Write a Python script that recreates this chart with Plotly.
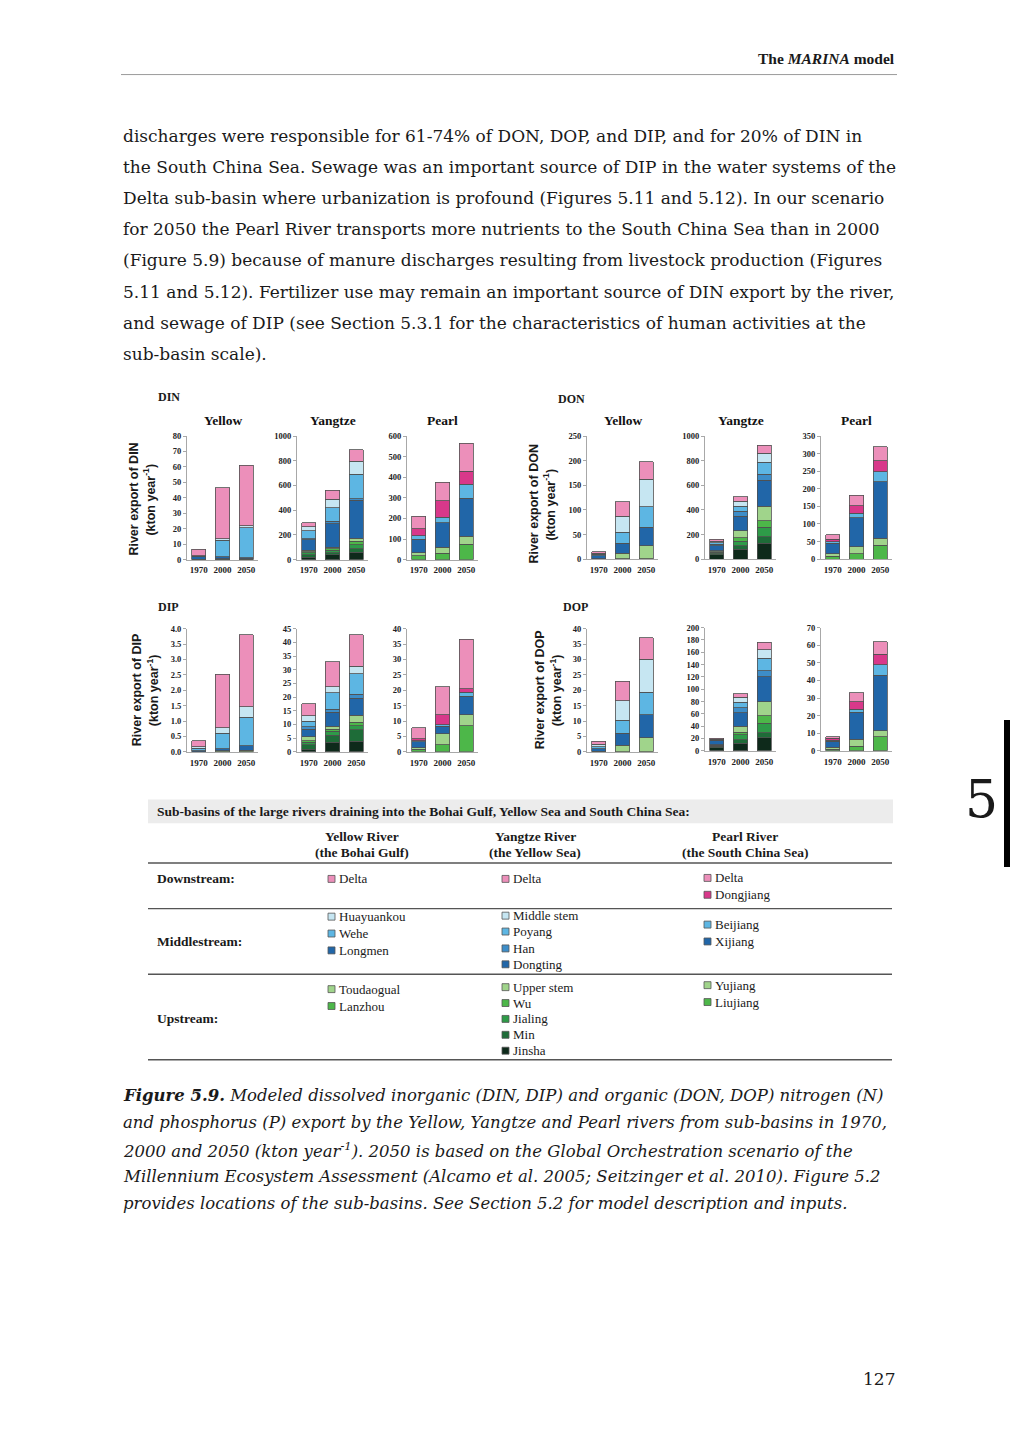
import plotly.graph_objects as go

# page body has an 8px margin: the figure is sized and offset to fit the 1018x1440 window
OFF = 8
W, H = 1018 - OFF, 1440 - OFF
def fx(x): return (x - OFF) / W
def fy(y): return 1 - (y - OFF) / H

years = ['1970', '2000', '2050']

yellow_basins = ['Lanzhou', 'Toudaogual', 'Longmen', 'Wehe', 'Huayuankou', 'Delta']
yangtze_basins = ['Jinsha', 'Min', 'Jialing', 'Wu', 'Upper stem', 'Dongting', 'Han', 'Poyang', 'Middle stem', 'Delta']
pearl_basins = ['Liujiang', 'Yujiang', 'Xijiang', 'Beijiang', 'Dongjiang', 'Delta']

# ---- DIN (kton/yr), segments bottom -> top
din_yellow = {'Lanzhou': [0.1, 0.2, 0.2], 'Toudaogual': [0.2, 0.3, 0.3], 'Longmen': [1.8, 1.5, 0.7],
              'Wehe': [0.3, 10.5, 19.3], 'Huayuankou': [0.2, 1.0, 1.5], 'Delta': [4.2, 33.0, 39.0]}
din_yangtze = {'Jinsha': [20, 40, 60], 'Min': [20, 15, 30], 'Jialing': [15, 20, 30], 'Wu': [10, 15, 30],
               'Upper stem': [12, 12, 22], 'Dongting': [85, 190, 310], 'Han': [8, 18, 10],
               'Poyang': [65, 110, 200], 'Middle stem': [30, 70, 105], 'Delta': [35, 70, 90]}
din_pearl = {'Liujiang': [18, 30, 75], 'Yujiang': [15, 30, 38], 'Xijiang': [67, 118, 184],
             'Beijiang': [15, 27, 68], 'Dongjiang': [35, 80, 65], 'Delta': [60, 90, 135]}
# ---- DON
don_yellow = {'Lanzhou': [0.3, 0.5, 0.5], 'Toudaogual': [0.7, 11.5, 26.5], 'Longmen': [6, 20, 38],
              'Wehe': [3, 23, 41], 'Huayuankou': [2, 32, 56], 'Delta': [3, 30, 36]}
don_yangtze = {'Jinsha': [35, 80, 130], 'Min': [10, 30, 50], 'Jialing': [10, 35, 80], 'Wu': [5, 30, 50],
               'Upper stem': [10, 55, 120], 'Dongting': [40, 120, 210], 'Han': [10, 40, 50],
               'Poyang': [15, 40, 95], 'Middle stem': [10, 40, 75], 'Delta': [15, 35, 65]}
don_pearl = {'Liujiang': [8, 15, 40], 'Yujiang': [7, 20, 20], 'Xijiang': [30, 83, 160],
             'Beijiang': [5, 12, 28], 'Dongjiang': [7, 22, 32], 'Delta': [13, 30, 40]}
# ---- DIP
dip_yellow = {'Lanzhou': [0.005, 0.01, 0.01], 'Toudaogual': [0.005, 0.02, 0.04], 'Longmen': [0.02, 0.07, 0.15],
              'Wehe': [0.09, 0.5, 0.93], 'Huayuankou': [0.04, 0.18, 0.34], 'Delta': [0.2, 1.74, 2.33]}
dip_yangtze = {'Jinsha': [1.0, 3.5, 3.8], 'Min': [1.5, 2.5, 4.2], 'Jialing': [1.0, 1.5, 1.5], 'Wu': [0.5, 0.8, 1.3],
               'Upper stem': [1.5, 1.0, 2.5], 'Dongting': [2.8, 5.2, 6.2], 'Han': [0.9, 1.0, 1.5],
               'Poyang': [2.0, 6.0, 7.5], 'Middle stem': [2.0, 2.3, 2.8], 'Delta': [4.3, 9.2, 11.5]}
dip_pearl = {'Liujiang': [0.8, 2.3, 8.5], 'Yujiang': [0.5, 3.5, 3.5], 'Xijiang': [1.9, 2.5, 6.0],
             'Beijiang': [0.4, 0.5, 1.3], 'Dongjiang': [0.6, 3.3, 1.2], 'Delta': [3.6, 9.1, 16.0]}
# ---- DOP
dop_yellow = {'Lanzhou': [0.05, 0.1, 0.1], 'Toudaogual': [0.15, 2.1, 4.4], 'Longmen': [0.8, 3.8, 7.5],
              'Wehe': [0.7, 4.2, 7.4], 'Huayuankou': [0.8, 6.4, 10.6], 'Delta': [1.0, 6.4, 7.0]}
dop_yangtze = {'Jinsha': [5, 12, 21], 'Min': [2, 6, 8], 'Jialing': [1, 8, 16], 'Wu': [1, 4, 12],
               'Upper stem': [1, 10, 23], 'Dongting': [6, 22, 40], 'Han': [1, 8, 10],
               'Poyang': [1, 9, 20], 'Middle stem': [1, 8, 14], 'Delta': [1.5, 6, 12]}
dop_pearl = {'Liujiang': [1, 2.5, 8], 'Yujiang': [1, 4, 3.5], 'Xijiang': [3.5, 15.5, 31.5],
             'Beijiang': [0.5, 1.5, 6], 'Dongjiang': [1, 4.5, 6], 'Delta': [1, 5, 7]}

COL = {
    'Delta': '#EC8FBA', 'Dongjiang': '#D8388A',
    'Huayuankou': '#C6E6F2', 'Middle stem': '#C6E6F2',
    'Wehe': '#5DB6E3', 'Poyang': '#5DB6E3', 'Beijiang': '#5DB6E3',
    'Han': '#3D8DC8',
    'Longmen': '#2166A8', 'Dongting': '#2166A8', 'Xijiang': '#2166A8',
    'Toudaogual': '#A0D48B', 'Upper stem': '#A0D48B', 'Yujiang': '#A0D48B',
    'Lanzhou': '#4DB749', 'Wu': '#4DB749', 'Liujiang': '#4DB749',
    'Jialing': '#2E9B48', 'Min': '#1E6C38', 'Jinsha': '#0E2A1B',
}

SERIF = 'Liberation Serif'
SANS = 'Liberation Sans'

# (data, basins, range, dtick, tickformat, axis x-pixel, top-pixel, zero-pixel, title)
panels = [
    (din_yellow, yellow_basins, 80, 10, None, 187, 434, 558.5, 'Yellow'),
    (din_yangtze, yangtze_basins, 1000, 200, None, 297, 434, 558.5, 'Yangtze'),
    (din_pearl, pearl_basins, 600, 100, None, 407, 434, 558.5, 'Pearl'),
    (don_yellow, yellow_basins, 250, 50, None, 587, 434, 558, 'Yellow'),
    (don_yangtze, yangtze_basins, 1000, 200, None, 705, 434, 558, 'Yangtze'),
    (don_pearl, pearl_basins, 350, 50, None, 821, 434, 558, 'Pearl'),
    (dip_yellow, yellow_basins, 4, 0.5, '.1f', 187, 628, 752, None),
    (dip_yangtze, yangtze_basins, 45, 5, None, 297, 628, 752, None),
    (dip_pearl, pearl_basins, 40, 5, None, 407, 628, 752, None),
    (dop_yellow, yellow_basins, 40, 5, None, 587, 628, 752, None),
    (dop_yangtze, yangtze_basins, 200, 20, None, 705, 627, 751, None),
    (dop_pearl, pearl_basins, 70, 10, None, 821, 627, 751, None),
]

fig = go.Figure()
layout = dict()
annotations = []
shapes = []
PW = 71
for i, (data, basins, ymax, dt, tf, x0, ytop, y0, title) in enumerate(panels, start=1):
    xa = 'x' if i == 1 else 'x%d' % i
    ya = 'y' if i == 1 else 'y%d' % i
    for b in basins:
        fig.add_trace(go.Bar(x=years, y=data[b], xaxis=xa, yaxis=ya, name=b,
                             marker=dict(color=COL[b], line=dict(color='#505050', width=0.8)),
                             showlegend=False, hoverinfo='skip'))
    kx = 'xaxis' if i == 1 else 'xaxis%d' % i
    ky = 'yaxis' if i == 1 else 'yaxis%d' % i
    layout[kx] = dict(domain=[fx(x0), fx(x0 + PW)], anchor=ya, showline=True, linecolor='#A8A8A8',
                      linewidth=1, ticks='', showgrid=False, zeroline=False, fixedrange=True,
                      tickfont=dict(family=SERIF, size=9, color='#222', weight='bold'),
                      type='category', ticklabelstandoff=2)
    ydict = dict(domain=[fy(y0), fy(ytop)], anchor=xa, range=[0, ymax], dtick=dt, tick0=0,
                 showline=True, linecolor='#A8A8A8', linewidth=1, ticks='outside', ticklen=3,
                 tickcolor='#A8A8A8', showgrid=False, zeroline=False, fixedrange=True,
                 tickfont=dict(family=SERIF, size=8.5, color='#222', weight='bold'))
    if tf:
        ydict['tickformat'] = tf
    layout[ky] = ydict
    if title:
        annotations.append(dict(x=fx(x0 + PW / 2), y=fy(418), text='<b>%s</b>' % title, showarrow=False,
                                xref='paper', yref='paper', xanchor='center', yanchor='middle',
                                font=dict(family=SERIF, size=13.5, color='#111')))

def ann(x, y, text, size, family=SERIF, xanchor='left', bold=False, italic=False,
        angle=0, color='#1a1a1a'):
    if bold:
        text = '<b>%s</b>' % text
    if italic:
        text = '<i>%s</i>' % text
    annotations.append(dict(x=fx(x), y=fy(y), text=text, showarrow=False, xref='paper', yref='paper',
                            xanchor=xanchor, yanchor='middle', textangle=angle,
                            font=dict(family=family, size=size, color=color)))

# panel labels
ann(156, 395, 'DIN', 12, bold=True)
ann(556, 397, 'DON', 12, bold=True)
ann(156, 606, 'DIP', 12, bold=True)
ann(561, 606, 'DOP', 12, bold=True)
# y titles
for (xa_, xb_, yc, nut) in [(134, 149, 498, 'DIN'), (534, 549, 503, 'DON'),
                            (137, 153, 690, 'DIP'), (540, 556, 690, 'DOP')]:
    ann(xa_, yc, 'River export of %s' % nut, 12.5, family=SANS, xanchor='center', bold=True, angle=-90)
    ann(xb_, yc, '(kton year<sup>-1</sup>)', 12.5, family=SANS, xanchor='center', bold=True, angle=-90)

# header
ann(897, 54, '<b>The <i>MARINA</i> model</b>', 15.5, xanchor='right')
shapes.append(dict(type='line', xref='paper', yref='paper', x0=fx(121), x1=fx(897), y0=fy(70), y1=fy(70),
                   line=dict(color='#9a9a9a', width=1)))

body = [
    'discharges were responsible for 61-74% of DON, DOP, and DIP, and for 20% of DIN in',
    'the South China Sea. Sewage was an important source of DIP in the water systems of the',
    'Delta sub-basin where urbanization is profound (Figures 5.11 and 5.12). In our scenario',
    'for 2050 the Pearl River transports more nutrients to the South China Sea than in 2000',
    '(Figure 5.9) because of manure discharges resulting from livestock production (Figures',
    '5.11 and 5.12). Fertilizer use may remain an important source of DIN export by the river,',
    'and sewage of DIP (see Section 5.3.1 for the characteristics of human activities at the',
    'sub-basin scale).',
]
for k, line in enumerate(body):
    ann(121, 132 + k * 31.3, line, 17, family='DejaVu Serif')

# table
shapes.append(dict(type='rect', xref='paper', yref='paper', x0=fx(148), x1=fx(893), y0=fy(800), y1=fy(824),
                   fillcolor='#ECECEC', line=dict(width=0)))
ann(155, 812, 'Sub-basins of the large rivers draining into the Bohai Gulf, Yellow Sea and South China Sea:',
    13.5, bold=True)
for xc, l1, l2 in [(362, 'Yellow River', '(the Bohai Gulf)'), (535, 'Yangtze River', '(the Yellow Sea)'),
                   (745, 'Pearl River', '(the South China Sea)')]:
    ann(xc, 837, l1, 13.5, xanchor='center', bold=True)
    ann(xc, 853, l2, 13.5, xanchor='center', bold=True)
for yl, wd in [(864, 1.3), (910, 1.3), (976, 1.3), (1062, 1.5)]:
    shapes.append(dict(type='line', xref='paper', yref='paper', x0=fx(148), x1=fx(892), y0=fy(yl), y1=fy(yl),
                       line=dict(color='#555555', width=wd)))
ann(155, 880, 'Downstream:', 13.5, bold=True)
ann(155, 943, 'Middlestream:', 13.5, bold=True)
ann(155, 1021, 'Upstream:', 13.5, bold=True)

legend_items = [
    (328, 880, 'Delta'), (328, 918, 'Huayuankou'), (328, 935, 'Wehe'), (328, 952, 'Longmen'),
    (328, 991, 'Toudaogual'), (328, 1008, 'Lanzhou'),
    (502, 880, 'Delta'), (502, 917, 'Middle stem'), (502, 933, 'Poyang'), (502, 950, 'Han'),
    (502, 966, 'Dongting'), (502, 989, 'Upper stem'), (502, 1005, 'Wu'), (502, 1021, 'Jialing'),
    (502, 1037, 'Min'), (502, 1053, 'Jinsha'),
    (704, 879, 'Delta'), (704, 896, 'Dongjiang'), (704, 926, 'Beijiang'), (704, 943, 'Xijiang'),
    (704, 987, 'Yujiang'), (704, 1004, 'Liujiang'),
]
for lx, ly, name in legend_items:
    shapes.append(dict(type='rect', xref='paper', yref='paper', x0=fx(lx), x1=fx(lx + 7),
                       y0=fy(ly + 3.5), y1=fy(ly - 3.5), fillcolor=COL[name],
                       line=dict(color='#555555', width=0.8)))
    ann(lx + 9, ly, name, 13)

# caption
cap = [
    '<b>Figure 5.9.</b> Modeled dissolved inorganic (DIN, DIP) and organic (DON, DOP) nitrogen (N)',
    'and phosphorus (P) export by the Yellow, Yangtze and Pearl rivers from sub-basins in 1970,',
    '2000 and 2050 (kton year<sup>-1</sup>). 2050 is based on the Global Orchestration scenario of the',
    'Millennium Ecosystem Assessment (Alcamo et al. 2005; Seitzinger et al. 2010). Figure 5.2',
    'provides locations of the sub-basins. See Section 5.2 for model description and inputs.',
]
for k, line in enumerate(cap):
    ann(121, 1098 + k * 27.3, line, 16.5, family='DejaVu Serif', italic=True)

# page number and tab
ann(897, 1384, '127', 17, family='DejaVu Serif', xanchor='right')
shapes.append(dict(type='rect', xref='paper', yref='paper', x0=fx(1004), x1=fx(1018), y0=fy(868), y1=fy(720),
                   fillcolor='#000000', line=dict(width=0)))
ann(981, 800, '5', 52, family='DejaVu Serif', xanchor='center')

fig.update_layout(width=W, height=H, margin=dict(l=0, r=0, t=0, b=0), paper_bgcolor='white',
                  plot_bgcolor='white', barmode='stack', bargap=0.4, annotations=annotations,
                  shapes=shapes, **layout)
fig.write_html('out.html')
